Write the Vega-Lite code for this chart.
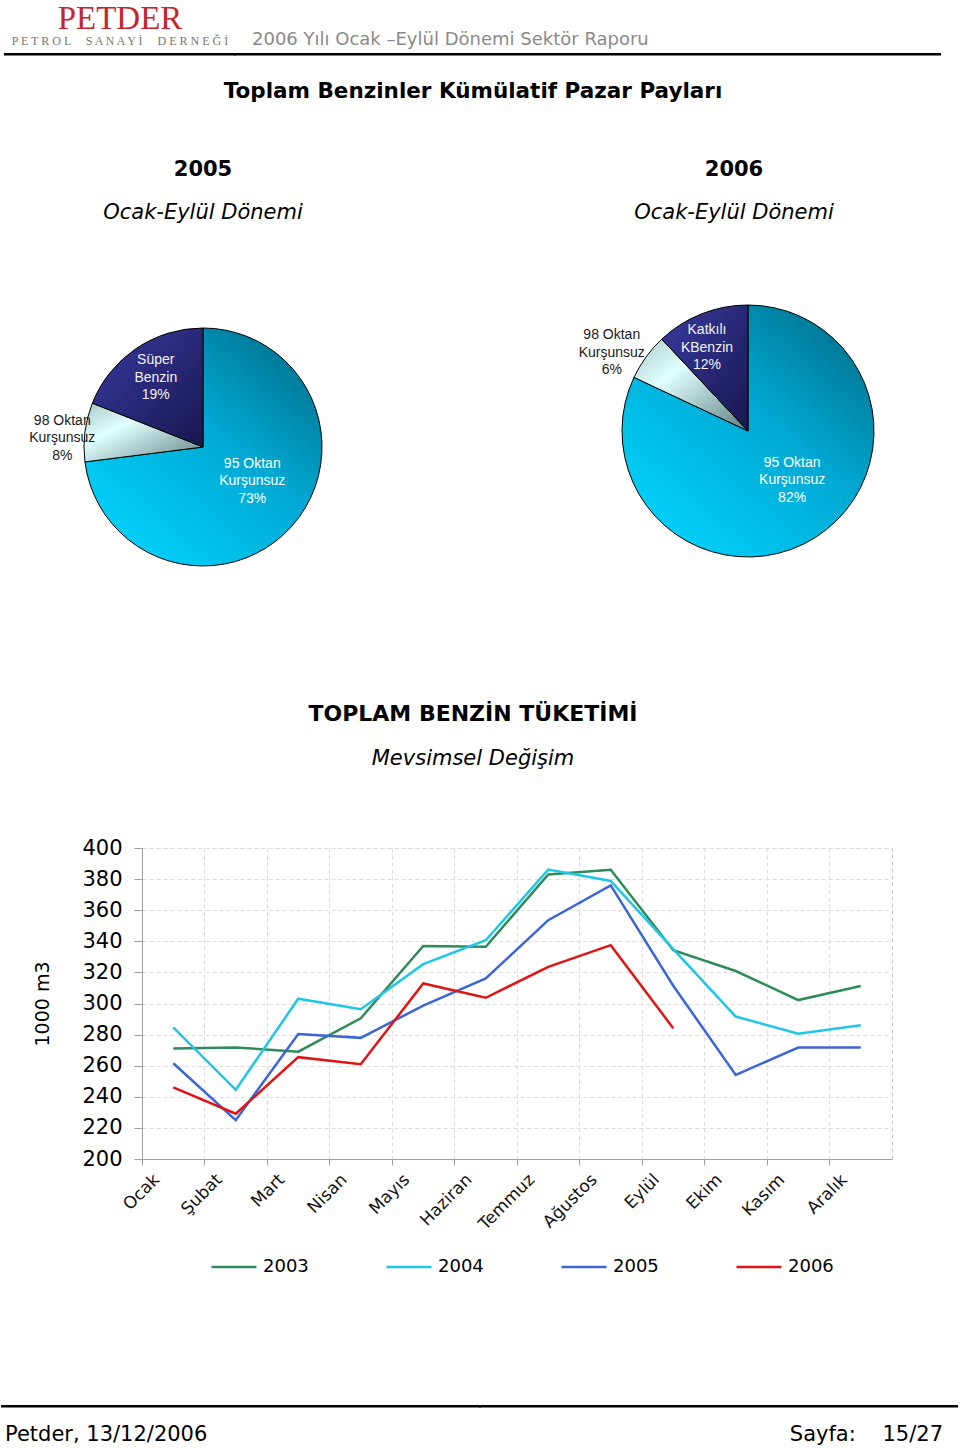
{
  "$schema": "https://vega.github.io/schema/vega-lite/v6.json",
  "background": "white",
  "padding": {"left": 0, "top": 2, "right": 0, "bottom": 0},
  "spacing": 0,
  "bounds": "flush",
  "resolve": {"scale": {"color": "independent", "strokeWidth": "independent"}, "legend": {"color": "independent", "strokeWidth": "independent"}},
  "config": {
    "font": "DejaVu Sans",
    "view": {"stroke": null},
    "title": {"font": "DejaVu Sans", "subtitleFont": "DejaVu Sans", "color": "#000", "subtitleColor": "#000", "anchor": "middle", "fontWeight": "bold"},
    "legend": {"layout": {"bottom": {"anchor": "middle"}}}
  },
  "datasets": {
    "bos": [],
    "pay2005": [
      {"yakit": "95 Oktan Kurşunsuz", "pay": 73, "sira": 1, "etiket": "95 Oktan\nKurşunsuz\n73%"},
      {"yakit": "98 Oktan Kurşunsuz", "pay": 8, "sira": 2, "etiket": "98 Oktan\nKurşunsuz\n8%"},
      {"yakit": "Süper Benzin", "pay": 19, "sira": 3, "etiket": "Süper\nBenzin\n19%"}
    ],
    "pay2006": [
      {"yakit": "95 Oktan Kurşunsuz", "pay": 82, "sira": 1, "etiket": "95 Oktan\nKurşunsuz\n82%"},
      {"yakit": "98 Oktan Kurşunsuz", "pay": 6, "sira": 2, "etiket": "98 Oktan\nKurşunsuz\n6%"},
      {"yakit": "Katkılı KBenzin", "pay": 12, "sira": 3, "etiket": "Katkılı\nKBenzin\n12%"}
    ],
    "tuketim": [
      {"ay": "Ocak", "yil": "2003", "deger": 271},
      {"ay": "Şubat", "yil": "2003", "deger": 271.7},
      {"ay": "Mart", "yil": "2003", "deger": 269},
      {"ay": "Nisan", "yil": "2003", "deger": 290.5},
      {"ay": "Mayıs", "yil": "2003", "deger": 337},
      {"ay": "Haziran", "yil": "2003", "deger": 336.5},
      {"ay": "Temmuz", "yil": "2003", "deger": 383},
      {"ay": "Ağustos", "yil": "2003", "deger": 386},
      {"ay": "Eylül", "yil": "2003", "deger": 334.3},
      {"ay": "Ekim", "yil": "2003", "deger": 320.9},
      {"ay": "Kasım", "yil": "2003", "deger": 302.2},
      {"ay": "Aralık", "yil": "2003", "deger": 311.2},
      {"ay": "Ocak", "yil": "2004", "deger": 284.7},
      {"ay": "Şubat", "yil": "2004", "deger": 244.5},
      {"ay": "Mart", "yil": "2004", "deger": 303.1},
      {"ay": "Nisan", "yil": "2004", "deger": 296.3},
      {"ay": "Mayıs", "yil": "2004", "deger": 325.3},
      {"ay": "Haziran", "yil": "2004", "deger": 340.7},
      {"ay": "Temmuz", "yil": "2004", "deger": 386.1},
      {"ay": "Ağustos", "yil": "2004", "deger": 378.8},
      {"ay": "Eylül", "yil": "2004", "deger": 335},
      {"ay": "Ekim", "yil": "2004", "deger": 291.6},
      {"ay": "Kasım", "yil": "2004", "deger": 280.6},
      {"ay": "Aralık", "yil": "2004", "deger": 286},
      {"ay": "Ocak", "yil": "2005", "deger": 261.6},
      {"ay": "Şubat", "yil": "2005", "deger": 225},
      {"ay": "Mart", "yil": "2005", "deger": 280.4},
      {"ay": "Nisan", "yil": "2005", "deger": 277.9},
      {"ay": "Mayıs", "yil": "2005", "deger": 298.6},
      {"ay": "Haziran", "yil": "2005", "deger": 316.1},
      {"ay": "Temmuz", "yil": "2005", "deger": 353.6},
      {"ay": "Ağustos", "yil": "2005", "deger": 376},
      {"ay": "Eylül", "yil": "2005", "deger": 311.4},
      {"ay": "Ekim", "yil": "2005", "deger": 254.1},
      {"ay": "Kasım", "yil": "2005", "deger": 271.7},
      {"ay": "Aralık", "yil": "2005", "deger": 271.7},
      {"ay": "Ocak", "yil": "2006", "deger": 246},
      {"ay": "Şubat", "yil": "2006", "deger": 229.1},
      {"ay": "Mart", "yil": "2006", "deger": 265.5},
      {"ay": "Nisan", "yil": "2006", "deger": 261},
      {"ay": "Mayıs", "yil": "2006", "deger": 312.9},
      {"ay": "Haziran", "yil": "2006", "deger": 303.7},
      {"ay": "Temmuz", "yil": "2006", "deger": 323.6},
      {"ay": "Ağustos", "yil": "2006", "deger": 337.5},
      {"ay": "Eylül", "yil": "2006", "deger": 284.1}
    ]
  },
  "vconcat": [
    {
      "spacing": 0,
      "bounds": "flush",
      "hconcat": [
        {"width": 5, "height": 0.5, "data": {"name": "bos"}, "mark": "point"},
        {
          "width": 230, "height": 0.5, "data": {"name": "bos"}, "mark": "point",
          "view": {"stroke": "#000", "strokeWidth": 2},
          "title": {"text": "PETDER", "subtitle": "P E T R O L \u00a0 \u00a0 S A N A Y İ \u00a0 \u00a0 D E R N E Ğ İ", "font": "Liberation Serif", "fontSize": 33, "fontWeight": "normal", "color": "#C3262C", "subtitleFont": "Liberation Serif", "subtitleFontSize": 12, "subtitleColor": "#777", "subtitlePadding": 0, "offset": 7}
        },
        {
          "width": 705, "height": 0.5, "data": {"name": "bos"}, "mark": "point",
          "view": {"stroke": "#000", "strokeWidth": 2},
          "title": {"text": "2006 Yılı Ocak –Eylül Dönemi Sektör Raporu", "anchor": "start", "dx": 17, "fontSize": 18, "fontWeight": "normal", "color": "#8A8A8A", "offset": 5}
        }
      ]
    },
    {"width": 946, "height": 52, "data": {"name": "bos"}, "mark": "point"},
    {
      "width": 946, "height": 145, "data": {"name": "bos"}, "mark": "point",
      "title": {"text": "Toplam Benzinler Kümülatif Pazar Payları", "fontSize": 21.5, "fontWeight": "bold", "offset": 4}
    },
    {
      "spacing": 0,
      "bounds": "flush",
      "hconcat": [
        {
          "width": 406, "height": 392,
          "data": {"name": "pay2005"},
          "title": {"text": "2005", "subtitle": "Ocak-Eylül Dönemi", "fontSize": 21, "fontWeight": "bold", "subtitleFontSize": 21, "subtitleFontStyle": "italic", "subtitlePadding": 22, "offset": 28},
          "encoding": {
            "theta": {"field": "pay", "type": "quantitative", "stack": true},
            "order": {"field": "sira", "type": "quantitative"}
          },
          "layer": [
            {
              "mark": {"type": "arc", "radius": 119, "stroke": "#000", "strokeWidth": 1},
              "encoding": {
                "color": {
                  "condition": [
                    {"test": "datum.sira == 1", "value": {"gradient": "linear", "x1": 0.85, "y1": 0, "x2": 0.1, "y2": 0.85, "stops": [{"offset": 0, "color": "#006F8C"}, {"offset": 0.45, "color": "#00A8D2"}, {"offset": 1, "color": "#00D0FA"}]}},
                    {"test": "datum.sira == 2", "value": {"gradient": "linear", "x1": 0, "y1": 0, "x2": 1, "y2": 1, "stops": [{"offset": 0, "color": "#A8C8C8"}, {"offset": 0.35, "color": "#E2FFFF"}, {"offset": 1, "color": "#5F7F80"}]}}
                  ],
                  "value": {"gradient": "linear", "x1": 0, "y1": 0, "x2": 1, "y2": 1, "stops": [{"offset": 0, "color": "#3A3AA2"}, {"offset": 1, "color": "#17174F"}]}
                }
              }
            },
            {
              "mark": {"type": "text", "radius": 60, "thetaOffset": -0.115, "dy": -17.5, "font": "Liberation Sans", "fontSize": 14, "lineBreak": "\n", "lineHeight": 17.5, "color": "#FFFFFF"},
              "encoding": {"text": {"condition": {"test": "datum.sira == 1", "field": "etiket", "type": "nominal"}, "value": ""}}
            },
            {
              "mark": {"type": "text", "radius": 141, "thetaOffset": -0.063, "dy": -17.5, "font": "Liberation Sans", "fontSize": 14, "lineBreak": "\n", "lineHeight": 17.5, "color": "#1A1A1A"},
              "encoding": {"text": {"condition": {"test": "datum.sira == 2", "field": "etiket", "type": "nominal"}, "value": ""}}
            },
            {
              "mark": {"type": "text", "radius": 84, "dy": -17.5, "font": "Liberation Sans", "fontSize": 14, "lineBreak": "\n", "lineHeight": 17.5, "color": "#F2F2F2"},
              "encoding": {"text": {"condition": {"test": "datum.sira == 3", "field": "etiket", "type": "nominal"}, "value": ""}}
            }
          ]
        },
        {"width": 130, "height": 360, "data": {"name": "bos"}, "mark": "point"},
        {
          "width": 424, "height": 360,
          "data": {"name": "pay2006"},
          "title": {"text": "2006", "subtitle": "Ocak-Eylül Dönemi", "fontSize": 21, "fontWeight": "bold", "subtitleFontSize": 21, "subtitleFontStyle": "italic", "subtitlePadding": 22, "offset": 28, "dx": -14},
          "encoding": {
            "theta": {"field": "pay", "type": "quantitative", "stack": true},
            "order": {"field": "sira", "type": "quantitative"}
          },
          "layer": [
            {
              "mark": {"type": "arc", "radius": 126, "stroke": "#000", "strokeWidth": 1},
              "encoding": {
                "color": {
                  "condition": [
                    {"test": "datum.sira == 1", "value": {"gradient": "linear", "x1": 0.85, "y1": 0, "x2": 0.1, "y2": 0.85, "stops": [{"offset": 0, "color": "#006F8C"}, {"offset": 0.45, "color": "#00A8D2"}, {"offset": 1, "color": "#00D0FA"}]}},
                    {"test": "datum.sira == 2", "value": {"gradient": "linear", "x1": 0, "y1": 0, "x2": 1, "y2": 1, "stops": [{"offset": 0, "color": "#A8C8C8"}, {"offset": 0.35, "color": "#E2FFFF"}, {"offset": 1, "color": "#5F7F80"}]}}
                  ],
                  "value": {"gradient": "linear", "x1": 0, "y1": 0, "x2": 1, "y2": 1, "stops": [{"offset": 0, "color": "#3A3AA2"}, {"offset": 1, "color": "#17174F"}]}
                }
              }
            },
            {
              "mark": {"type": "text", "radius": 66, "thetaOffset": -0.167, "dy": -17.5, "font": "Liberation Sans", "fontSize": 14, "lineBreak": "\n", "lineHeight": 17.5, "color": "#FFFFFF"},
              "encoding": {"text": {"condition": {"test": "datum.sira == 1", "field": "etiket", "type": "nominal"}, "value": ""}}
            },
            {
              "mark": {"type": "text", "radius": 157, "thetaOffset": -0.108, "dy": -17.5, "font": "Liberation Sans", "fontSize": 14, "lineBreak": "\n", "lineHeight": 17.5, "color": "#1A1A1A"},
              "encoding": {"text": {"condition": {"test": "datum.sira == 2", "field": "etiket", "type": "nominal"}, "value": ""}}
            },
            {
              "mark": {"type": "text", "radius": 93, "thetaOffset": -0.08, "dy": -17.5, "font": "Liberation Sans", "fontSize": 14, "lineBreak": "\n", "lineHeight": 17.5, "color": "#F2F2F2"},
              "encoding": {"text": {"condition": {"test": "datum.sira == 3", "field": "etiket", "type": "nominal"}, "value": ""}}
            }
          ]
        }
      ]
    },
    {"width": 946, "height": 597, "data": {"name": "bos"}, "mark": "point"},
    {
      "spacing": 0,
      "bounds": "flush",
      "resolve": {"scale": {"color": "independent", "strokeWidth": "independent"}, "legend": {"color": "independent", "strokeWidth": "independent"}},
      "hconcat": [
        {"width": 142, "height": 311, "data": {"name": "bos"}, "mark": "point"},
        {
          "width": 750, "height": 311,
          "data": {"name": "tuketim"},
          "view": {"stroke": "#C8C8C8", "strokeDash": [4, 3]},
          "title": {"text": "TOPLAM BENZİN TÜKETİMİ", "subtitle": "Mevsimsel Değişim", "fontSize": 22, "fontWeight": "bold", "subtitleFontSize": 21, "subtitleFontStyle": "italic", "subtitlePadding": 22, "offset": 67, "dx": -44},
          "mark": {"type": "line", "interpolate": "linear"},
          "encoding": {
            "x": {
              "field": "ay", "type": "ordinal", "bandPosition": 0.5,
              "sort": ["Ocak", "Şubat", "Mart", "Nisan", "Mayıs", "Haziran", "Temmuz", "Ağustos", "Eylül", "Ekim", "Kasım", "Aralık"],
              "scale": {"type": "band", "paddingInner": 0, "paddingOuter": 0},
              "axis": {"title": null, "bandPosition": 0, "labelAngle": -45, "labelAlign": "right", "labelBaseline": "top", "labelFont": "DejaVu Sans", "labelFontSize": 17, "labelColor": "#111", "labelOffset": -22, "labelPadding": 6, "labelOverlap": false, "tickSize": 6, "tickColor": "#A0A0A0", "domainColor": "#A0A0A0", "grid": true, "gridColor": "#DCDCDC", "gridDash": [4, 3]}
            },
            "y": {
              "field": "deger", "type": "quantitative",
              "scale": {"domain": [200, 400], "nice": false, "zero": false},
              "axis": {"title": "1000 m3", "titleFont": "DejaVu Sans", "titleFontSize": 19, "titleFontWeight": "normal", "titleColor": "#000", "titlePadding": 29, "values": [200, 220, 240, 260, 280, 300, 320, 340, 360, 380, 400], "labelFont": "DejaVu Sans", "labelFontSize": 21, "labelColor": "#000", "labelPadding": 12, "tickSize": 8, "tickColor": "#A0A0A0", "domainColor": "#A0A0A0", "grid": true, "gridColor": "#DCDCDC", "gridDash": [4, 3]}
            },
            "color": {
              "field": "yil", "type": "nominal",
              "scale": {"domain": ["2003", "2004", "2005", "2006"], "range": ["#2E8B5A", "#1FC6E6", "#3C66D8", "#E01414"]},
              "legend": {"title": "\u00a0\u00a0\u00a0\u00a0\u00a0\u00a0\u00a0\u00a0\u00a0\u00a0\u00a0\u00a0\u00a0\u00a0\u00a0\u00a0", "titleOrient": "left", "titleFont": "DejaVu Sans", "titleFontSize": 18, "titlePadding": 10, "orient": "bottom", "direction": "horizontal", "symbolType": "stroke", "symbolSize": 2025, "labelFont": "DejaVu Sans", "labelFontSize": 18, "labelColor": "#000", "labelOffset": 5, "columnPadding": 72, "offset": 10}
            },
            "strokeWidth": {
              "field": "yil", "type": "nominal",
              "scale": {"domain": ["2003", "2004", "2005", "2006"], "range": [2.5, 2.5, 2.5, 4]},
              "legend": {"title": "\u00a0\u00a0\u00a0\u00a0\u00a0\u00a0\u00a0\u00a0\u00a0\u00a0\u00a0\u00a0\u00a0\u00a0\u00a0\u00a0", "titleOrient": "left", "titleFont": "DejaVu Sans", "titleFontSize": 18, "titlePadding": 10, "orient": "bottom", "direction": "horizontal", "symbolType": "stroke", "symbolSize": 2025, "labelFont": "DejaVu Sans", "labelFontSize": 18, "labelColor": "#000", "labelOffset": 5, "columnPadding": 72, "offset": 10}
            }
          }
        }
      ]
    },
    {"width": 946, "height": 558, "data": {"name": "bos"}, "mark": "point"},
    {
      "spacing": 0,
      "bounds": "flush",
      "hconcat": [
        {"width": 2, "height": 0.5, "data": {"name": "bos"}, "mark": "point"},
        {
          "width": 478, "height": 0.5, "data": {"name": "bos"}, "mark": "point",
          "view": {"stroke": "#000", "strokeWidth": 2},
          "title": {"text": "Petder, 13/12/2006", "orient": "bottom", "anchor": "start", "dx": 3, "fontSize": 21, "fontWeight": "normal", "offset": 17}
        },
        {
          "width": 477, "height": 0.5, "data": {"name": "bos"}, "mark": "point",
          "view": {"stroke": "#000", "strokeWidth": 2},
          "title": {"text": "Sayfa:\u00a0\u00a0\u00a0 15/27", "orient": "bottom", "anchor": "end", "dx": -14, "fontSize": 21, "fontWeight": "normal", "offset": 17}
        }
      ]
    }
  ]
}
